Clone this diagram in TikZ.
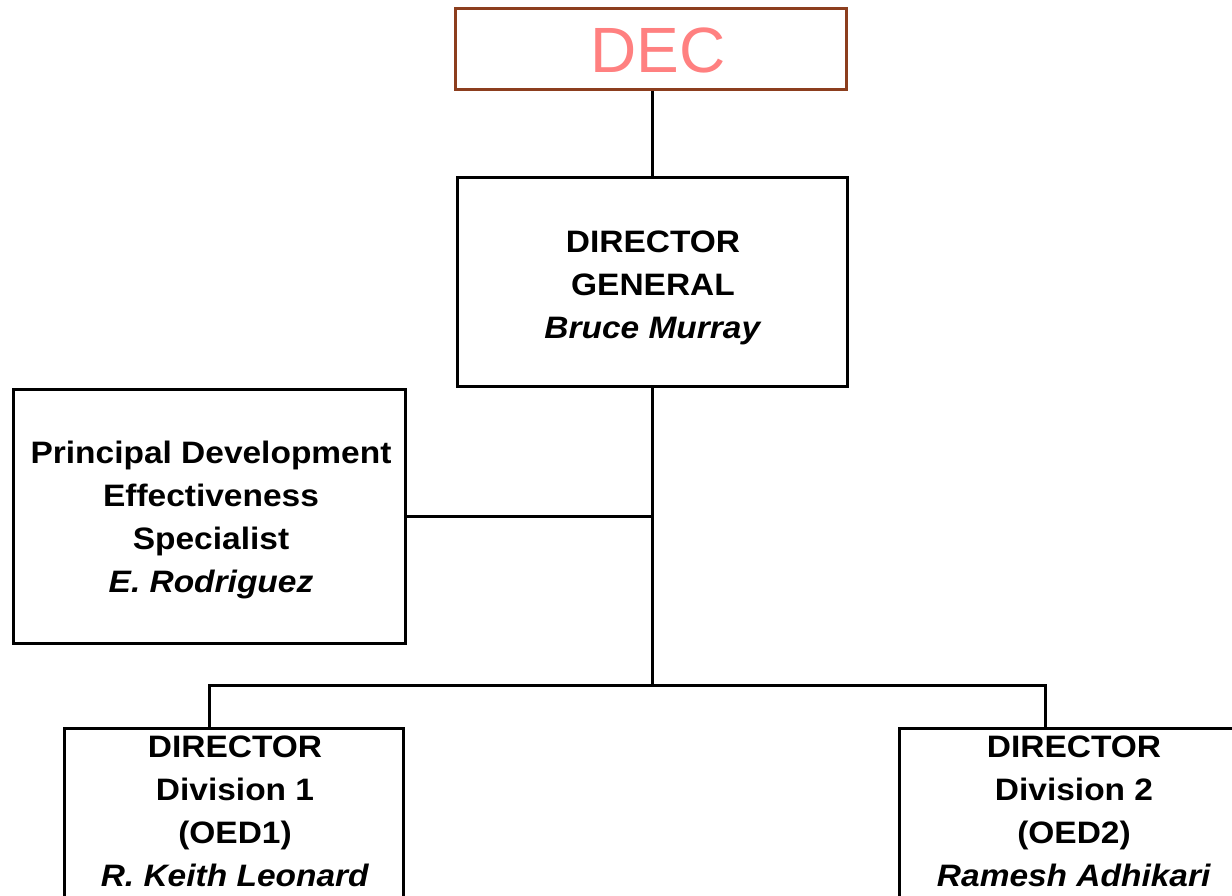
\documentclass[tikz,border=0pt]{standalone}
\usepackage{fontspec}
\setmainfont{Liberation Sans}[FakeStretch=1.08]
\newfontfamily\decfont{Liberation Sans}
\definecolor{decborder}{RGB}{140,62,30}
\definecolor{decpink}{RGB}{255,128,128}
\begin{document}
\begin{tikzpicture}[x=1pt,y=-1pt,
  orgbox/.style={draw=black, line width=3pt, fill=white, inner sep=0pt, rectangle},
  decbox/.style={draw=decborder, line width=3pt, fill=white, inner sep=0pt, rectangle},
  lbl/.style={font=\bfseries\fontsize{31}{43}\selectfont, align=center, inner sep=0pt, text=black},
  link/.style={draw=black, line width=3pt, line join=miter}]
\useasboundingbox (0,0) rectangle (1232,896);
\clip (0,0) rectangle (1232,896);
\fill[white] (0,0) rectangle (1232,896);

% boxes
\node[decbox, minimum width=391pt, minimum height=81pt] (dec) at (651,49) {};
\node[orgbox, minimum width=390pt, minimum height=209pt] (dg) at (652.5,282) {};
\node[orgbox, minimum width=392pt, minimum height=254pt] (pdes) at (209.5,516.5) {};
\node[orgbox, minimum width=339pt, minimum height=271.5pt] (b1) at (234,864.25) {};
\node[orgbox, minimum width=350.5pt, minimum height=271.5pt] (b2) at (1074.75,864.25) {};

% texts
\node[inner sep=0pt, text=decpink, font=\decfont\fontsize{64}{70}\selectfont] (dect) at (658,50) {DEC};
\node[lbl] (dgt) at (653,288) {DIRECTOR\\GENERAL\\\textit{Bruce Murray}};
\node[lbl] (pdest) at (211,520) {Principal Development\\Effectiveness\\Specialist\\\textit{E. Rodriguez}};
\node[lbl] (b1t) at (235,811) {DIRECTOR\\Division 1\\(OED1)\\\textit{R. Keith Leonard}};
\node[lbl] (b2t) at (1074,811) {DIRECTOR\\Division 2\\(OED2)\\\textit{Ramesh Adhikari}};

% connectors
\coordinate (j) at (652.5,685);
\coordinate (t1) at (209,685);
\coordinate (t2) at (1045,685);
\draw[link] (dec.south -| dg.north) -- (dg.north);
\draw[link] (dg.south) -- (j);
\draw[link] (pdes.east) -- (pdes.east -| dg.south);
\draw[link] (t1 |- b1.north) -- (t1) -- (t2) -- (t2 |- b2.north);
\end{tikzpicture}
\end{document}
